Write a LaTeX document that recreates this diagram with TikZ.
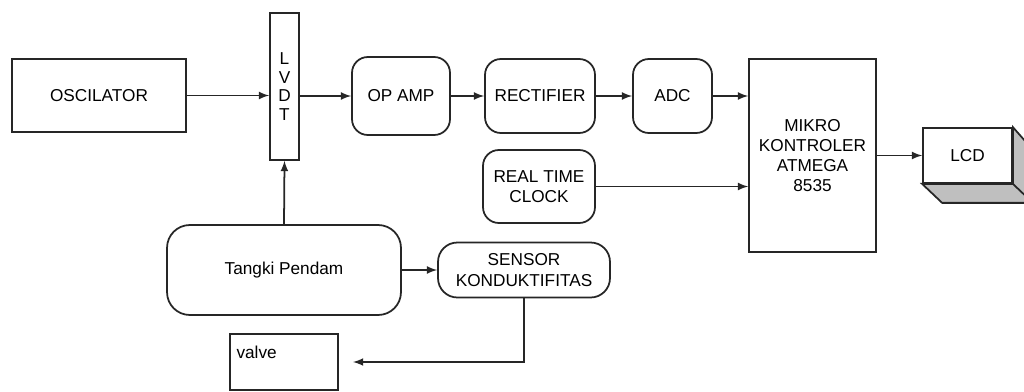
\documentclass[tikz,border=0pt]{standalone}
\usepackage{tikz}
\usepackage{xcolor}
\usepackage{fontspec}
\setmainfont{Liberation Sans}
\usetikzlibrary{calc,
	positioning,
	arrows}

\tikzset{
	blok/.style={draw=black!85, line width=1pt, rectangle, inner sep=2pt, align=center,
		font=\fontsize{9.8}{11.5}\selectfont},
	rblok/.style={blok, rounded corners=9pt},
	panah/.style={-latex, line width=1pt, black!85}
}

\begin{document}
	\begin{tikzpicture}[x=0.02cm, y=-0.02cm]
		\useasboundingbox (0,0) rectangle (1024,392);
		% jalur sinyal
		\node [blok, minimum width=3.48cm, minimum height=1.46cm] (osc) at (99,95.5) {OSCILATOR};
		\node [blok, minimum width=0.58cm, minimum height=2.94cm, font=\fontsize{9.8}{10.5}\selectfont]
			(lvdt) at (284.5,86.5) {L\\V\\D\\T};
		\node [rblok, minimum width=1.96cm, minimum height=1.56cm] (opamp) at (401,96) {OP AMP};
		\node [rblok, minimum width=2.2cm, minimum height=1.48cm] (rect) at (540,96) {RECTIFIER};
		\node [rblok, minimum width=1.58cm, minimum height=1.48cm] (adc) at (672.5,96) {ADC};
		\node [blok, minimum width=2.54cm, minimum height=3.86cm] (mikro) at (812.5,155.5)
			{MIKRO\\KONTROLER\\ATMEGA\\8535};
		\node [rblok, minimum width=2.24cm, minimum height=1.46cm] (rtc) at (539,186.5) {REAL TIME\\CLOCK};
		% LCD (kotak 3d)
		\node [blok, fill=white, minimum width=1.78cm, minimum height=1.1cm] (lcd) at (967.5,155.5) {LCD};
		\filldraw [fill=black!25, draw=black!85, line width=1pt] (lcd.south west) -- ++(20,19) -- ++(89,0)
			-- ++(0,-55) -- (lcd.north east) -- (lcd.south east) -- cycle;
		\draw [black!85, line width=1pt] (lcd.south east) -- ++(20,19);
		% bagian tangki
		\node [rblok, rounded corners=13pt, minimum width=4.68cm, minimum height=1.8cm] (tangki) at (284,270)
			{Tangki Pendam};
		\node [rblok, rounded corners=11pt, minimum width=3.44cm, minimum height=1.1cm] (sensor) at (524,270)
			{SENSOR\\KONDUKTIFITAS};
		\node [blok, minimum width=2.16cm, minimum height=1.12cm, text width=1.9cm, align=left] (valve)
			at (284,362) {valve\\\mbox{}};
		\coordinate (vin) at (353,362);

		\draw [panah] (osc) -- (osc -| lvdt.west);
		\draw [panah] (lvdt.east |- opamp) -- (opamp);
		\draw [panah] (opamp) -- (rect);
		\draw [panah] (rect) -- (adc);
		\draw [panah] (adc.east) -- (adc.east -| mikro.west);
		\draw [panah] (rtc.east) -- (rtc.east -| mikro.west);
		\draw [panah] (mikro.east |- lcd) -- (lcd);
		\draw [panah] (tangki.north) -- (lvdt.south);
		\draw [panah] (tangki) -- (sensor);
		\draw [panah] (sensor.south) |- (vin);
	\end{tikzpicture}
\end{document}
